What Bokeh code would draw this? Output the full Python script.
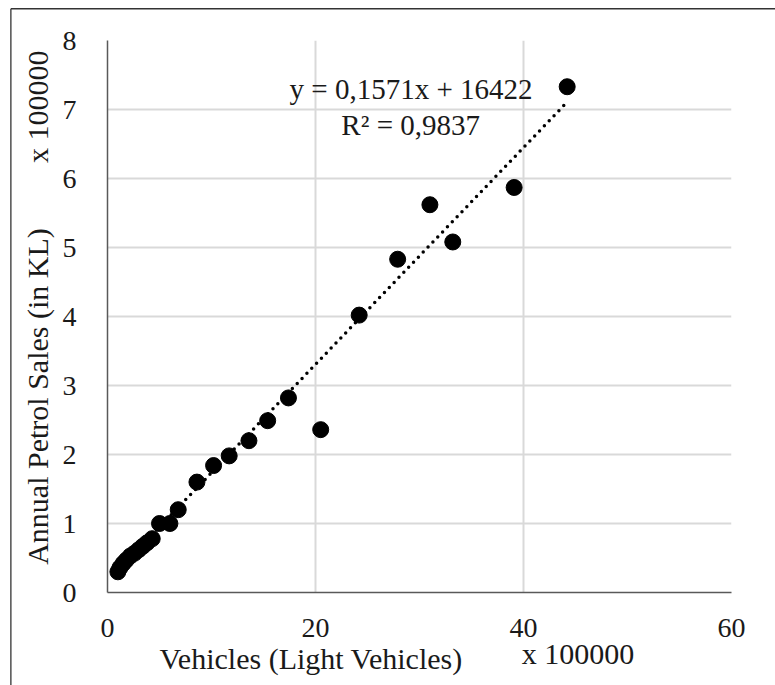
import numpy as np
from bokeh.plotting import figure
from bokeh.models import ColumnDataSource, FixedTicker
from bokeh.core.properties import value
from bokeh.embed import file_html
from bokeh.resources import INLINE

# Data (x 100000)
vehicles = [1.0, 1.2, 1.5, 1.8, 2.2, 2.6, 3.0, 3.4, 3.8, 4.3, 5.0, 6.0, 6.8, 8.6,
            10.2, 11.7, 13.6, 15.4, 17.4, 20.5, 24.2, 27.9, 31.0, 33.2, 39.1, 44.2]
petrol = [0.30, 0.36, 0.42, 0.47, 0.53, 0.57, 0.62, 0.67, 0.72, 0.78, 1.00, 1.00, 1.20, 1.60,
          1.84, 1.98, 2.20, 2.49, 2.82, 2.36, 4.02, 4.83, 5.62, 5.08, 5.87, 7.33]
slope = 0.1571
intercept = 16422 / 100000
x_ticks = [0, 20, 40, 60]
y_ticks = [0, 1, 2, 3, 4, 5, 6, 7, 8]
equation_text = "y = 0,1571x + 16422"
r2_text = "R\u00b2 = 0,9837"
y_title = "Annual Petrol Sales (in KL)"
x_title = "Vehicles (Light Vehicles)"
scale_text = "x 100000"

FONT = "Liberation Serif"
TXT = "#1a1a1a"

p = figure(width=775, height=685, x_range=(0, 60), y_range=(0, 8),
           output_backend="svg", toolbar_location=None,
           min_border_left=107, min_border_right=44, min_border_top=40, min_border_bottom=93)
p.outline_line_color = None
p.background_fill_color = "white"
p.border_fill_color = "white"

p.xaxis.ticker = FixedTicker(ticks=x_ticks)
p.yaxis.ticker = FixedTicker(ticks=y_ticks)
for ax in (p.xaxis[0], p.yaxis[0]):
    ax.axis_line_color = "#595959"
    ax.axis_line_width = 1.5
    ax.major_tick_line_color = None
    ax.minor_tick_line_color = None
    ax.major_label_text_font = FONT
    ax.major_label_text_font_size = "28px"
    ax.major_label_text_color = TXT
p.xaxis.major_label_standoff = 20
p.yaxis.major_label_standoff = 25

p.grid.grid_line_color = "#d9d9d9"
p.grid.grid_line_width = 2

# trendline
xs = np.array([min(vehicles), max(vehicles)])
ys = slope * xs + intercept
p.line(xs, ys, line_color="black", line_width=3.5, line_dash="0 7", line_cap="round")

src = ColumnDataSource(dict(x=vehicles, y=petrol))
p.scatter("x", "y", source=src, size=16, color="black")

def lab(x, y, text, angle=0.0, size="29px"):
    p.text(x=[x], y=[y], text=[text], angle=angle, text_font=value(FONT),
           text_font_size=value(size), text_align="center", text_baseline="middle",
           text_color=TXT, level="overlay")

lab(29.19, 7.29, equation_text, size="29px")
lab(29.15, 6.78, r2_text, size="29px")
lab(-6.69, 2.84, y_title, angle=np.pi / 2, size="30px")
lab(-6.69, 7.04, scale_text, angle=np.pi / 2, size="30px")
lab(19.58, -0.957, x_title, size="30px")
lab(45.23, -0.884, scale_text, size="30px")

# outer frame of the chart area: only its left and top edges are in view
p.multi_line(xs=[[-9.29, -9.29], [-9.29, 70]], ys=[[-2.5, 8.46], [8.46, 8.46]],
             line_color="#333333", line_width=1.3, level="overlay")

open("out.html", "w").write(file_html(p, INLINE))
